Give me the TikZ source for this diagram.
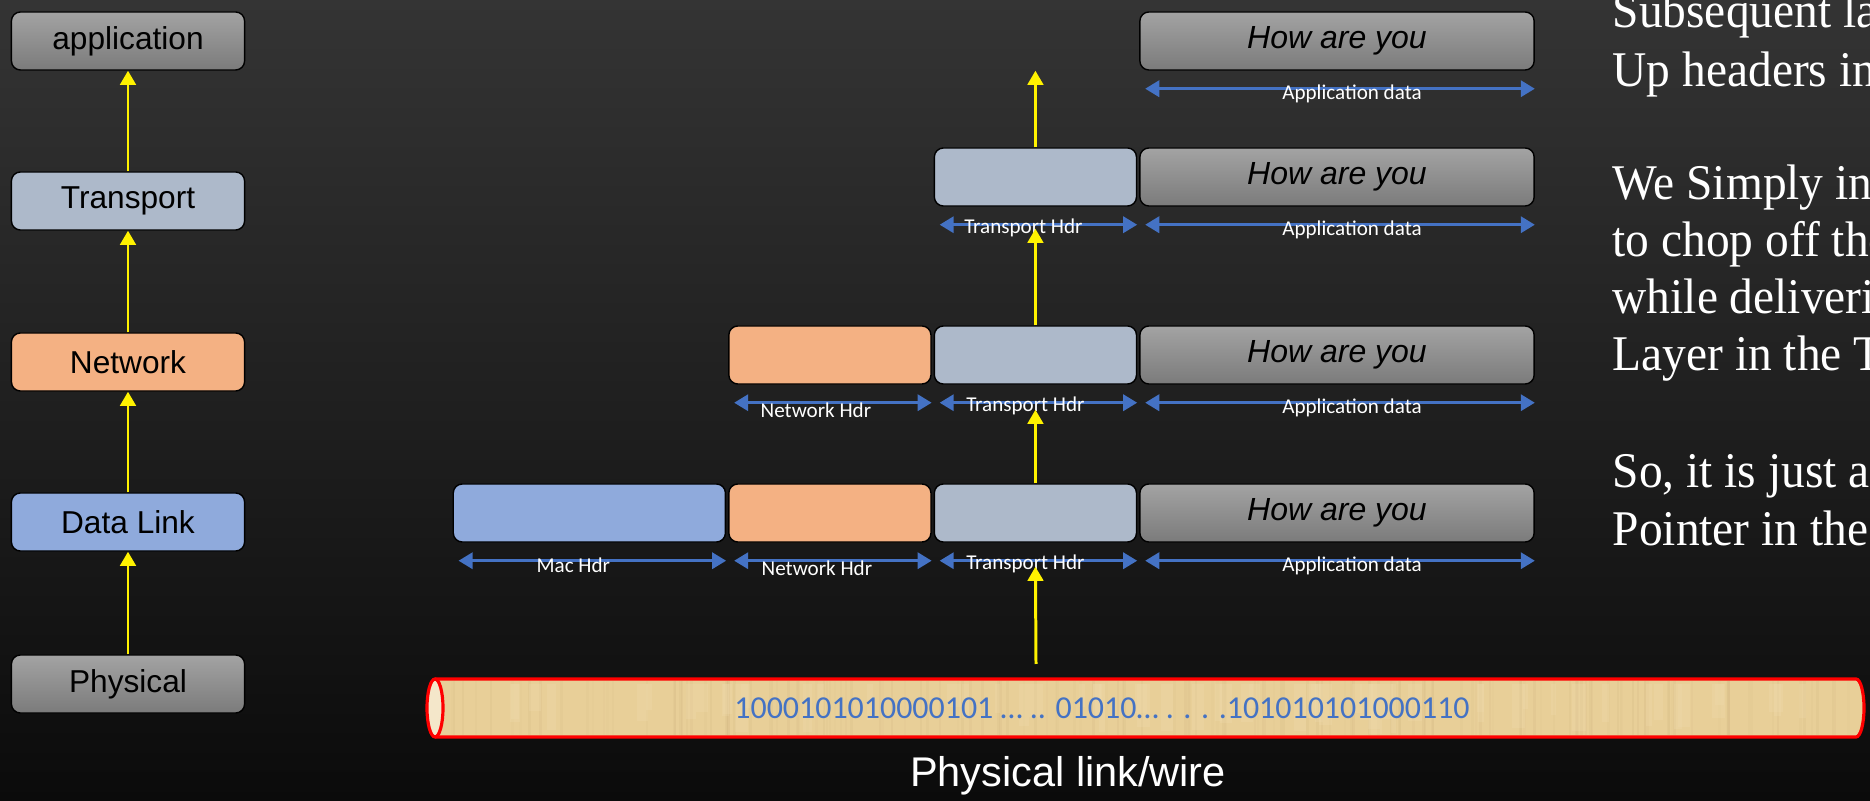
\documentclass[tikz,border=0pt]{standalone}
\usepackage{fontspec}
\setmainfont{Liberation Serif}
\newfontfamily\notefont[FakeStretch=0.95]{Liberation Serif}
\newfontfamily\boxfont{Liberation Sans}
\newfontfamily\lblfont{Carlito}
\usepackage{tikz}
\usetikzlibrary{arrows.meta}
\usetikzlibrary{positioning}

\definecolor{bgtop}{HTML}{343434}
\definecolor{bgbot}{HTML}{0B0B0B}
\definecolor{greytop}{HTML}{A3A3A3}
\definecolor{greybot}{HTML}{7B7B7B}
\definecolor{transblue}{HTML}{ADB9CA}
\definecolor{netorange}{HTML}{F4B183}
\definecolor{linkblue}{HTML}{8FAADC}
\definecolor{dimblue}{HTML}{4472C4}
\definecolor{wiretan}{HTML}{E8CF98}
\definecolor{wirestreak}{HTML}{CFB47F}
\definecolor{wirelight}{HTML}{F1DDB0}
\definecolor{wirecream}{HTML}{F4E7CA}

\tikzset{
  layer/.style={draw=black, rounded corners=0.09cm, minimum width=2.33cm,
    minimum height=0.58cm, inner sep=0pt, font=\boxfont\fontsize{9}{11}\selectfont},
  hdr/.style={draw=black, rounded corners=0.09cm, minimum height=0.58cm, inner sep=0pt},
  grey/.style={top color=greytop, bottom color=greybot},
  msg/.style={font=\boxfont\itshape\fontsize{9.1}{11}\selectfont},
  up/.style={draw=yellow, line width=0.85pt, -{Triangle[length=4pt,width=4.4pt]}},
  dim/.style={draw=dimblue, line width=0.85pt,
    {Triangle[length=4pt,width=4.6pt]}-{Triangle[length=4pt,width=4.6pt]}},
  dimlbl/.style={text=white, font=\lblfont\fontsize{6}{7}\selectfont, inner sep=0pt, yshift=-0.05cm},
  note/.style={text=white, inner sep=0pt, font=\notefont\fontsize{14.2}{16}\selectfont},
}

\begin{document}
\begin{tikzpicture}[x=0.01cm, y=-0.01cm]

  \useasboundingbox (0,0) rectangle (1870,801);
  \clip (0,0) rectangle (1870,801);
  \fill[top color=bgtop, bottom color=bgbot] (0,0) rectangle (1870,801);

  % protocol stack
  \node[layer, grey] (lapp) at (128,41) {application};
  \node[layer, fill=transblue] (ltrans) at (128,201) {Transport};
  \node[layer, fill=netorange] (lnet) at (128,362) {Network};
  \node[layer, fill=linkblue] (llink) at (128,522) {Data Link};
  \node[layer, grey] (lphy) at (128,684) {Physical};

  \foreach \a/\b in {lphy/llink, llink/lnet, lnet/ltrans, ltrans/lapp}
    \draw[up] (\a.north) -- (\b.south);

  % frames, one row per layer
  \node[hdr, grey, msg, minimum width=3.94cm] (app1) at (1337,41) {How are you};

  \node[hdr, grey, msg, minimum width=3.94cm] (app2) at (1337,177) {How are you};
  \node[hdr, fill=transblue, minimum width=2.02cm, left=0.02cm of app2] (trans2) {};

  \node[hdr, grey, msg, minimum width=3.94cm] (app3) at (1337,355) {How are you};
  \node[hdr, fill=transblue, minimum width=2.02cm, left=0.02cm of app3] (trans3) {};
  \node[hdr, fill=netorange, minimum width=2.02cm, left=0.02cm of trans3] (net3) {};

  \node[hdr, grey, msg, minimum width=3.94cm] (app4) at (1337,513) {How are you};
  \node[hdr, fill=transblue, minimum width=2.02cm, left=0.02cm of app4] (trans4) {};
  \node[hdr, fill=netorange, minimum width=2.02cm, left=0.02cm of trans4] (net4) {};
  \node[hdr, fill=linkblue, minimum width=2.72cm, left=0.02cm of net4] (mac4) {};

  \foreach \n/\t/\dx/\dy in {app1/Application data/0.12/0, app2/Application data/0.12/0,
      trans2/Transport Hdr/-0.15/0.02, app3/Application data/0.12/0,
      trans3/Transport Hdr/-0.13/0.02, net3/Network Hdr/-0.17/-0.03,
      app4/Application data/0.12/0, trans4/Transport Hdr/-0.13/0.02,
      net4/Network Hdr/-0.16/-0.03, mac4/Mac Hdr/-0.19/0}
    \draw[dim] ([xshift=0.06cm,yshift=-0.18cm]\n.south west)
      -- ([yshift=-0.18cm]\n.south east)
      node[midway, dimlbl, xshift=\dx cm, yshift=\dy cm] {\t};

  % the wire
  \fill[wiretan] (435,679) -- (1856,679) arc(-90:90:8 and 29) -- (435,737)
    arc(90:270:8 and 29) -- cycle;
  \pgfmathsetseed{17}
  \foreach \i in {1,...,160}{
    \pgfmathsetmacro\xx{440+rnd*1410}
    \pgfmathsetmacro\op{0.06+0.14*rnd}
    \draw[wirestreak, opacity=\op, line width=0.7pt] (\xx,681) -- (\xx,735);
  }
  \foreach \i in {1,...,60}{
    \pgfmathsetmacro\xx{440+rnd*1400}
    \fill[wirelight, opacity=0.25] (\xx,684) rectangle ++(4+rnd*10,20+rnd*30);
  }
  \draw[red, line width=0.9pt] (435,679) -- (1856,679) arc(-90:90:8 and 29) -- (435,737);
  \filldraw[fill=wirecream, draw=red, line width=0.9pt] (435,708) ellipse (8 and 29);

  \node[text=dimblue, font=\lblfont\fontsize{9.08}{11}\selectfont] (bits) at (1102,708)
    {1000101010000101 … .. 01010… . . . .101010101000110};
  \node[text=white, anchor=base, font=\boxfont\fontsize{11.8}{14}\selectfont] (wirelbl)
    at (1068,787) {Physical link/wire};

  % headers peeled off on the way up
  \coordinate (wiretop) at (1036,664);
  \draw[up] (wiretop) -- ([yshift=-0.24cm]trans4.south);
  \draw[up] (trans4.north) -- ([yshift=-0.25cm]trans3.south);
  \draw[up] (trans3.north) -- ([yshift=-0.22cm]trans2.south);
  \draw[up] (trans2.north) -- (trans2.north |- app1.south);

  % notes
  \foreach \t/\y [count=\i] in {Subsequent la/28, Up headers in/87, We Simply in/200,
      to chop off the/257, while deliverin/314, Layer in the T/371,
      {So, it is just a m}/488, Pointer in the/546}
    \node[note, anchor=base west] (note\i) at (1612,\y) {\t};

\end{tikzpicture}
\end{document}
